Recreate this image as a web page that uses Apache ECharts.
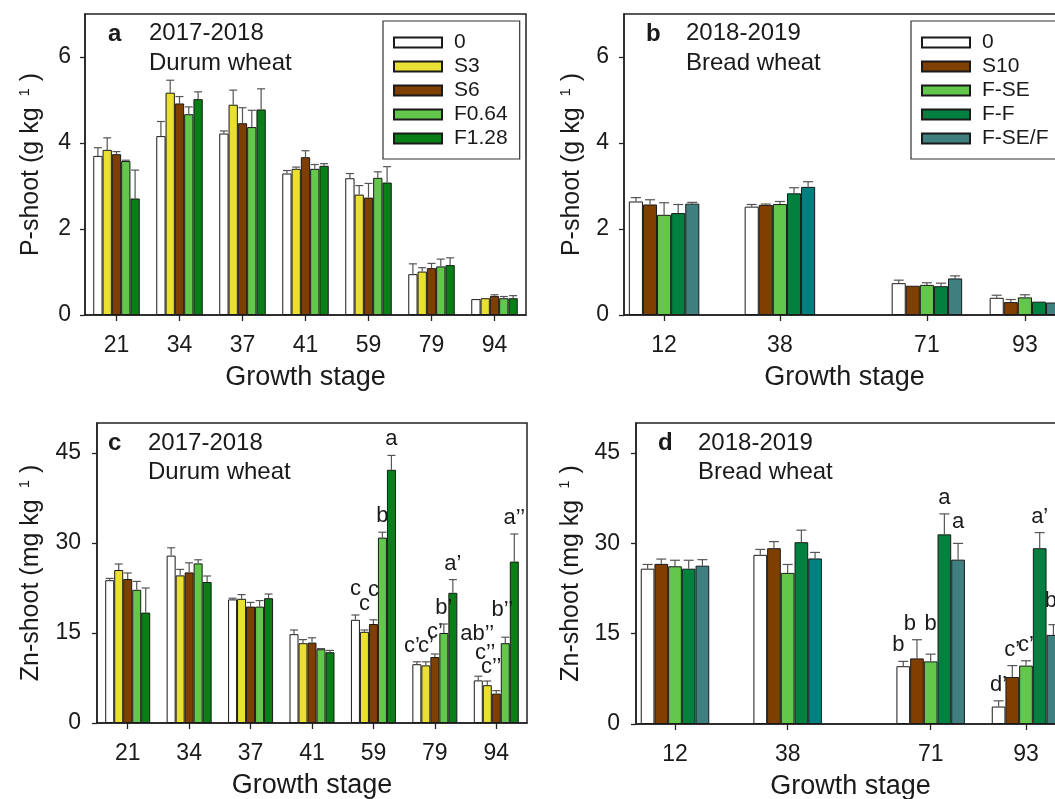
<!DOCTYPE html>
<html>
<head>
<meta charset="utf-8">
<script src="https://cdn.jsdelivr.net/npm/echarts@6/dist/echarts.min.js"></script>
<style>
  html, body { margin: 0; padding: 0; background: #ffffff; }
  #chart { width: 1055px; height: 799px; }
</style>
</head>
<body>
<div id="chart"></div>
<script>
// ---- Categories -----------------------------------------------------------
const stagesDurum = ['21', '34', '37', '41', '59', '79', '94'];
const stagesBread = [12, 38, 71, 93];
const treatDurum = ['0', 'S3', 'S6', 'F0.64', 'F1.28'];
const treatBread = ['0', 'S10', 'F-SE', 'F-F', 'F-SE/F'];

// ---- Tick labels ----------------------------------------------------------
const pTicks = [0, 2, 4, 6];
const znTicks = [0, 15, 30, 45];

// ---- P-shoot (g kg-1), 2017-2018 durum wheat: rows = treatments, cols = stages
const pDurumMean = [
  [3.70, 4.16, 4.22, 3.29, 3.18, 0.95, 0.37],
  [3.84, 5.17, 4.89, 3.40, 2.80, 1.01, 0.39],
  [3.74, 4.92, 4.46, 3.67, 2.73, 1.09, 0.44],
  [3.58, 4.67, 4.37, 3.40, 3.19, 1.13, 0.39],
  [2.71, 5.02, 4.78, 3.47, 3.08, 1.16, 0.39]
];
const pDurumSE = [
  [0.19, 0.34, 0.06, 0.07, 0.11, 0.24, 0.00],
  [0.28, 0.29, 0.34, 0.04, 0.21, 0.09, 0.00],
  [0.06, 0.16, 0.36, 0.15, 0.33, 0.11, 0.03],
  [0.02, 0.17, 0.39, 0.10, 0.14, 0.17, 0.04],
  [0.66, 0.17, 0.48, 0.05, 0.37, 0.17, 0.06]
];

// ---- P-shoot (g kg-1), 2018-2019 bread wheat
const pBreadMean = [
  [2.64, 2.52, 0.74, 0.40],
  [2.57, 2.56, 0.68, 0.30],
  [2.33, 2.58, 0.70, 0.41],
  [2.37, 2.83, 0.67, 0.31],
  [2.59, 2.98, 0.85, 0.29]
];
const pBreadSE = [
  [0.09, 0.05, 0.07, 0.06],
  [0.11, 0.02, 0.01, 0.06],
  [0.28, 0.06, 0.05, 0.06],
  [0.20, 0.13, 0.07, 0.01],
  [0.03, 0.12, 0.06, 0.00]
];

// ---- Zn-shoot (mg kg-1), 2017-2018 durum wheat
const znDurumMean = [
  [23.8, 27.9, 20.6, 14.8, 17.2, 9.8, 7.1],
  [25.5, 24.6, 20.7, 13.3, 15.2, 9.6, 6.3],
  [24.0, 25.1, 19.4, 13.4, 16.5, 11.0, 4.9],
  [22.2, 26.6, 19.4, 12.3, 30.9, 15.0, 13.3],
  [18.4, 23.5, 20.8, 11.8, 42.2, 21.7, 26.9]
];
const znDurumSE = [
  [0.3, 1.3, 0.2, 0.7, 0.8, 0.4, 0.7],
  [1.0, 1.0, 0.7, 0.6, 0.3, 0.6, 0.7],
  [1.0, 1.6, 0.7, 0.8, 0.7, 0.5, 0.5],
  [1.4, 0.6, 1.0, 0.1, 0.9, 1.5, 1.0],
  [4.1, 1.0, 0.7, 0.3, 2.4, 2.2, 4.6]
];
const znDurumLetters = [
  ['', '', '', '', 'c', 'c\u2019', 'ab\u2019\u2019'],
  ['', '', '', '', 'c', 'c\u2019', 'c\u2019\u2019'],
  ['', '', '', '', 'c', 'c\u2019', 'c\u2019\u2019'],
  ['', '', '', '', 'b', 'b\u2019', 'b\u2019\u2019'],
  ['', '', '', '', 'a', 'a\u2019', 'a\u2019\u2019']
];

// ---- Zn-shoot (mg kg-1), 2018-2019 bread wheat
const znBreadMean = [
  [25.8, 28.1, 9.6, 2.9],
  [26.6, 29.2, 10.9, 7.8],
  [26.2, 25.1, 10.4, 9.7],
  [25.8, 30.2, 31.5, 29.2],
  [26.3, 27.5, 27.3, 14.8]
];
const znBreadSE = [
  [0.7, 0.9, 0.8, 0.95],
  [0.8, 1.1, 3.1, 1.9],
  [1.0, 1.4, 1.2, 0.8],
  [1.4, 2.0, 3.4, 2.6],
  [1.0, 1.0, 2.7, 1.7]
];
const znBreadLetters = [
  ['', '', 'b', 'd\u2019'],
  ['', '', 'b', 'c\u2019'],
  ['', '', 'b', 'c\u2019'],
  ['', '', 'a', 'a\u2019'],
  ['', '', 'a', 'b\u2019']
];

// ---- Styling ----------------------------------------------------------------
const FONT = "'Liberation Sans', Arial, Helvetica, sans-serif";
const INK = '#1a1a1a';
const FRAME = '#222222';
const ERR = '#555555';
const COLORS_DURUM = ['#ffffff', '#e9e033', '#7f3f00', '#63c74c', '#0b7f17'];
const COLORS_BREAD = ['#ffffff', '#7f3f00', '#63c74c', '#02803f', '#3f7f7f'];
// the F-SE/F bar at stage 38 is drawn in a brighter teal
const COLOR_OVERRIDE_BREAD = { '4|38': '#008080' };

// hand placement of significance letters that would otherwise collide: [dx, dy] px
const LETTER_NUDGE = {
  c: { '4|0': [0, -10], '4|1': [0, -10], '4|2': [0, -14],
       '5|0': [-5, 0], '5|2': [0, -6],
       '6|0': [-1, -26], '6|1': [-2, -12], '6|2': [-5, -8], '6|3': [-3, -11] },
  d: { '2|0': [-5, 0], '2|1': [-7, 0], '2|2': [0, -14], '2|4': [0, -5], '3|4': [0, -8] }
};

const panels = [
  { key: 'a', grid: { left: 85, top: 14, width: 441, height: 301 }, kind: 'cat',
    mean: pDurumMean, se: pDurumSE, letters: null, treat: treatDurum, colors: COLORS_DURUM,
    yMax: 7, yTicks: pTicks, barW: 9.3, cap: 8, yLabelMargin: 14, yNameGap: 40,
    yName: '{t|P-shoot (g kg }{s|1}{t| )}' },
  { key: 'b', grid: { left: 624, top: 14, width: 441, height: 301 }, kind: 'val',
    mean: pBreadMean, se: pBreadSE, letters: null, treat: treatBread, colors: COLORS_BREAD,
    yMax: 7, yTicks: pTicks, barW: 14.1, cap: 10, yLabelMargin: 15, yNameGap: 38,
    yName: '{t|P-shoot (g kg }{s|1}{t| )}' },
  { key: 'c', grid: { left: 97, top: 423, width: 430, height: 300 }, kind: 'cat',
    mean: znDurumMean, se: znDurumSE, letters: znDurumLetters, treat: treatDurum, colors: COLORS_DURUM,
    yMax: 50, yTicks: znTicks, barW: 9, cap: 8, yLabelMargin: 16, yNameGap: 52,
    yName: '{t|Zn-shoot (mg kg }{s|1}{t| )}' },
  { key: 'd', grid: { left: 636, top: 423, width: 429, height: 301 }, kind: 'val',
    mean: znBreadMean, se: znBreadSE, letters: znBreadLetters, treat: treatBread, colors: COLORS_BREAD,
    yMax: 50, yTicks: znTicks, barW: 13.7, cap: 10, yLabelMargin: 16, yNameGap: 51,
    yName: '{t|Zn-shoot (mg kg }{s|1}{t| )}' }
];

const grids = [], xAxes = [], yAxes = [], series = [];

panels.forEach((p, gi) => {
  grids.push(Object.assign({
    show: true, borderColor: FRAME, borderWidth: 1.5, backgroundColor: 'transparent',
    containLabel: false, outerBoundsMode: 'none'
  }, p.grid));

  const xCommon = {
    gridIndex: gi,
    axisLine: { show: true, lineStyle: { color: FRAME, width: 1.5 } },
    axisTick: { show: true, length: 6, lineStyle: { color: FRAME, width: 1.3 } },
    axisLabel: { fontSize: 23, color: INK, fontFamily: FONT, margin: 19 },
    splitLine: { show: false },
    name: 'Growth stage', nameLocation: 'middle', nameGap: 49,
    nameTextStyle: { fontSize: 27, color: INK, fontFamily: FONT }
  };
  if (p.kind === 'cat') {
    xAxes.push(Object.assign({}, xCommon, {
      type: 'category', data: stagesDurum, boundaryGap: true,
      axisTick: Object.assign({}, xCommon.axisTick, { alignWithLabel: true })
    }));
  } else {
    xAxes.push(Object.assign({}, xCommon, {
      type: 'value', min: 3, max: 102,
      axisTick: Object.assign({}, xCommon.axisTick, { customValues: stagesBread }),
      axisLabel: Object.assign({}, xCommon.axisLabel, { customValues: stagesBread })
    }));
  }

  yAxes.push({
    type: 'value', gridIndex: gi, min: 0, max: p.yMax,
    axisLine: { show: true, lineStyle: { color: FRAME, width: 1.5 } },
    axisTick: { show: true, length: 5, customValues: p.yTicks, lineStyle: { color: FRAME, width: 1.3 } },
    axisLabel: { customValues: p.yTicks, fontSize: 23, color: INK, fontFamily: FONT, margin: p.yLabelMargin },
    splitLine: { show: false },
    name: p.yName, nameLocation: 'middle', nameGap: p.yNameGap, nameRotate: 90,
    nameTextStyle: {
      rich: {
        t: { fontSize: 25, color: INK, fontFamily: FONT, lineHeight: 28 },
        s: { fontSize: 15, color: INK, fontFamily: FONT, lineHeight: 14, verticalAlign: 'top', padding: [0, 0, 0, 4] }
      }
    }
  });

  const xs = p.kind === 'cat' ? stagesDurum.map((s, j) => j) : stagesBread;

  // bars: one series per treatment
  p.treat.forEach((name, k) => {
    series.push({
      type: 'bar', name: name, xAxisIndex: gi, yAxisIndex: gi,
      barWidth: p.barW, barGap: '0%', silent: true,
      itemStyle: { color: p.colors[k], borderColor: INK, borderWidth: 1 },
      data: p.mean[k].map((v, j) => {
        if (p.kind === 'cat') return v;
        const over = COLOR_OVERRIDE_BREAD[k + '|' + xs[j]];
        return over ? { value: [xs[j], v], itemStyle: { color: over } } : [xs[j], v];
      })
    });
  });

  // error bars (upper whisker) and significance letters
  const errData = [];
  p.treat.forEach((name, k) => {
    p.mean[k].forEach((v, j) => {
      errData.push([xs[j], k, v, v + p.se[k][j], j]);
    });
  });
  const nudges = LETTER_NUDGE[p.key] || {};
  series.push({
    type: 'custom', xAxisIndex: gi, yAxisIndex: gi, silent: true, z: 5,
    encode: { x: 0, y: 3 },
    data: errData,
    renderItem: function (params, api) {
      const x = api.value(0), k = api.value(1), mean = api.value(2), top = api.value(3), j = api.value(4);
      const base = api.coord([x, mean]);
      const tp = api.coord([x, top]);
      const cx = base[0] + (k - 2) * p.barW;
      const children = [];
      if (tp[1] < base[1] - 0.5) {
        children.push({ type: 'line', shape: { x1: cx, y1: base[1], x2: cx, y2: tp[1] },
          style: { stroke: ERR, lineWidth: 1.2 } });
        children.push({ type: 'line', shape: { x1: cx - p.cap / 2, y1: tp[1], x2: cx + p.cap / 2, y2: tp[1] },
          style: { stroke: ERR, lineWidth: 1.2 } });
      }
      const letter = p.letters ? p.letters[k][j] : '';
      if (letter) {
        const nd = nudges[j + '|' + k] || [0, 0];
        children.push({ type: 'text', x: cx + nd[0], y: tp[1] - 16 + nd[1],
          style: { text: letter, fill: INK, fontSize: 22, fontFamily: FONT, align: 'center', verticalAlign: 'middle' } });
      }
      return { type: 'group', children: children };
    }
  });
});

// panel tags and season / crop captions
function caption(x, y, text, bold) {
  return { type: 'text', x: x, y: y, silent: true,
    style: { text: text, fill: INK, fontSize: 24, fontWeight: bold ? 'bold' : 'normal',
      fontFamily: FONT, align: 'left', verticalAlign: 'middle' } };
}
const graphics = [
  caption(108, 34, 'a', true), caption(149, 33.5, '2017-2018'), caption(149, 63.5, 'Durum wheat'),
  caption(646, 34, 'b', true), caption(686, 33.5, '2018-2019'), caption(686, 63.5, 'Bread wheat'),
  caption(108, 443, 'c', true), caption(148, 443, '2017-2018'), caption(148, 472, 'Durum wheat'),
  caption(658, 443, 'd', true), caption(698, 443, '2018-2019'), caption(698, 472, 'Bread wheat')
];

const legendCommon = {
  orient: 'vertical', icon: 'rect', itemWidth: 48, itemHeight: 10, itemGap: 3,
  borderColor: '#333333', borderWidth: 1.2, padding: [11, 12, 10, 10],
  backgroundColor: '#ffffff', selectedMode: false,
  textStyle: { fontSize: 21, lineHeight: 21, color: INK, fontFamily: FONT, padding: [0, 0, 0, 7] }
};

const chart = echarts.init(document.getElementById('chart'), null, { renderer: 'canvas' });
chart.setOption({
  animation: false,
  backgroundColor: '#ffffff',
  grid: grids,
  xAxis: xAxes,
  yAxis: yAxes,
  legend: [
    Object.assign({}, legendCommon, { left: 383, top: 21, data: treatDurum }),
    Object.assign({}, legendCommon, { left: 911, top: 21, data: treatBread })
  ],
  graphic: graphics,
  series: series
});
</script>
</body>
</html>
